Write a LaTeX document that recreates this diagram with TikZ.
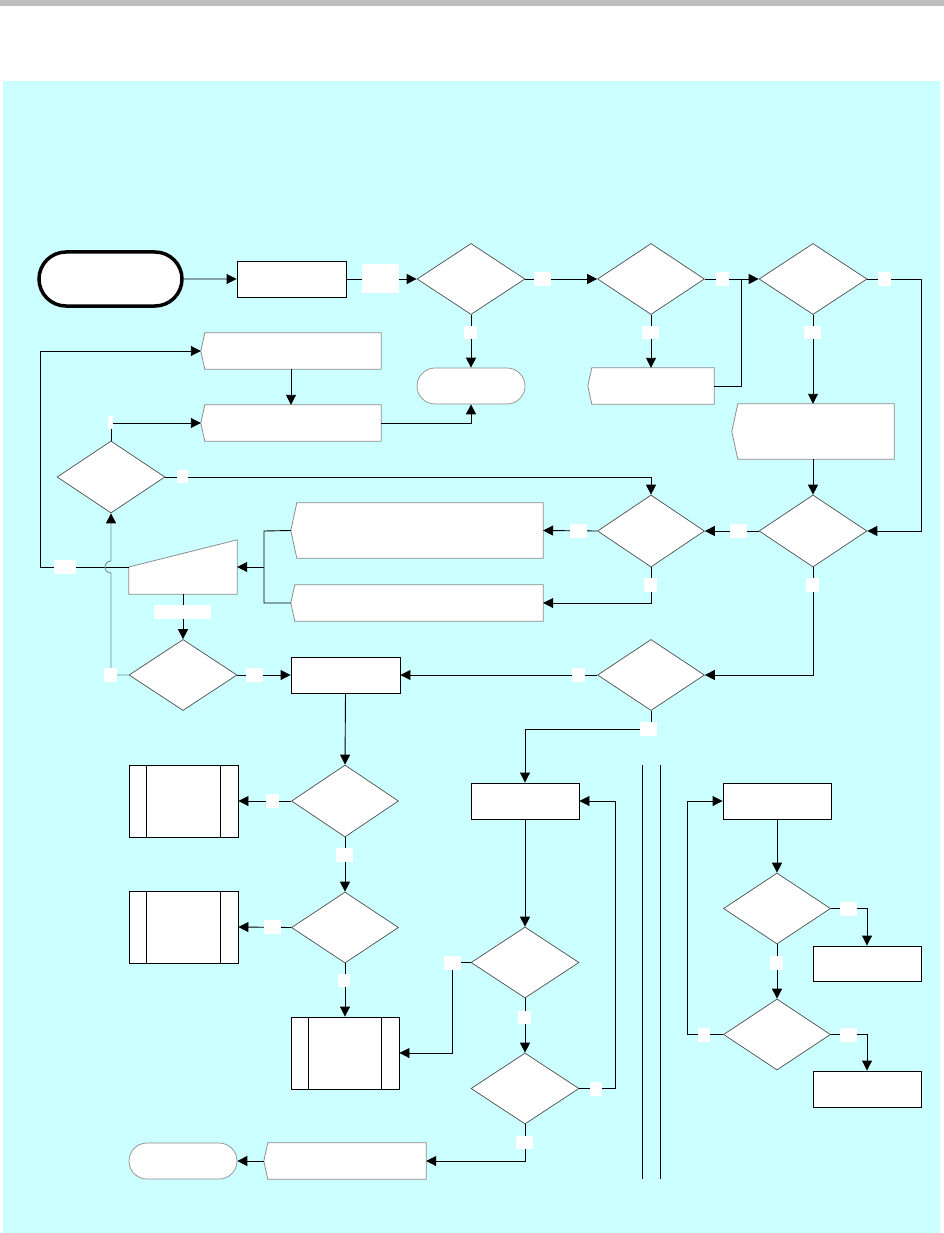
\documentclass[tikz,border=0pt]{standalone}
\usepackage{tikz}
\usetikzlibrary{shapes.geometric,shapes.misc,arrows.meta}

\definecolor{fondcyan}{RGB}{204,255,255}
\definecolor{barre}{RGB}{191,191,191}
\definecolor{bordgris}{RGB}{140,140,140}
\definecolor{liengris}{RGB}{110,150,150}

\tikzset{
  fleche/.style={-{Triangle[length=10pt,width=10pt,color=black]}},
  trait/.style={line width=0.9pt, black},
  losange/.style={diamond, draw=black!70, line width=0.7pt, fill=white, inner sep=0pt,
    minimum width=108pt, minimum height=71pt},
  proc/.style={rectangle, draw=black, line width=0.9pt, fill=white, inner sep=0pt,
    minimum width=108pt, minimum height=36pt},
  predef/.style={proc, minimum height=72pt},
  terminal/.style={rounded rectangle, draw=bordgris, line width=0.7pt, fill=white, inner sep=0pt,
    minimum width=108pt, minimum height=36pt},
  affiche/.style={rectangle, inner sep=0pt, minimum height=36pt},
  etiq/.style={fill=white, inner sep=0pt, minimum width=17pt, minimum height=14pt},
  etiqc/.style={etiq, minimum width=13pt},
}

\begin{document}
\begin{tikzpicture}[x=1pt,y=-1pt]
  % Fond
  \useasboundingbox (0,0) rectangle (944,1233);
  \fill[barre] (0,0) rectangle (944,6);
  \fill[fondcyan] (3,81) rectangle (940,1233);

  % Ligne du haut
  \node[terminal, draw=black, line width=3.5pt, minimum width=143pt, minimum height=54pt] (start) at (110.5,279) {};
  \node[proc, minimum width=109pt] (proc1) at (291.5,279) {};
  \node[losange] (d1) at (471,279) {};
  \node[losange, minimum width=107pt] (d2) at (651,279) {};
  \node[losange] (d3) at (813,279) {};
  \node[terminal] (fin1) at (471,386) {};

  % Boites d'affichage
  \node[affiche, minimum width=180pt] (boxA) at (291,351) {};
  \node[affiche, minimum width=180pt] (boxB) at (291,423) {};
  \node[affiche, minimum width=126pt] (boxC) at (651,386) {};
  \node[affiche, minimum width=162pt, minimum height=55pt] (boxD) at (813,431.5) {};
  \node[affiche, minimum width=252pt, minimum height=55pt] (boxE) at (417,530.5) {};
  \node[affiche, minimum width=252pt] (boxF) at (417,603) {};
  \node[affiche, minimum width=162pt] (boxI) at (345,1161) {};
  \foreach \n/\p in {boxA/4,boxB/4,boxC/4,boxD/6,boxE/6,boxF/4,boxI/4}
    \filldraw[fill=white, draw=bordgris, line width=0.8pt]
      (\n.north east) -- ([xshift=\p pt]\n.north west) -- (\n.west)
      -- ([xshift=\p pt]\n.south west) -- (\n.south east) -- cycle;

  % Losanges du milieu
  \node[losange, minimum height=72pt] (dL1) at (111,477) {};
  \node[losange, minimum height=72pt] (d4) at (813,531) {};
  \node[losange, minimum width=107pt, minimum height=72pt] (d5) at (651,531) {};
  \node[losange] (d7) at (183,675) {};
  \node[losange, minimum width=107pt] (d6) at (651,675) {};
  \node[proc, minimum width=109pt] (procG) at (345.5,675) {};

  % Saisie manuelle
  \node[rectangle, inner sep=0pt, minimum width=108pt, minimum height=54pt] (saisie) at (183,567) {};
  \filldraw[fill=white, draw=bordgris, line width=0.8pt]
    (saisie.south west) -- (saisie.south east) -- (saisie.north east)
    -- (saisie.west) -- cycle;

  % Colonne gauche du bas
  \node[losange, minimum width=107pt, minimum height=72pt] (d8) at (345,801) {};
  \node[losange, minimum width=107pt] (d9) at (345,927.5) {};
  \node[predef, minimum width=109pt] (P1) at (183.5,801) {};
  \node[predef, minimum width=109pt] (P2) at (183.5,927) {};
  \node[predef] (P3) at (345,1053) {};
  \foreach \n in {P1,P2,P3}
    \draw[line width=0.9pt] ([xshift=18pt]\n.north west) -- ([xshift=18pt]\n.south west)
      ([xshift=-18pt]\n.north east) -- ([xshift=-18pt]\n.south east);
  \node[terminal] (fin2) at (183,1161) {};

  % Colonne du milieu
  \node[proc] (procH) at (525,801) {};
  \node[losange] (d10) at (525,962.5) {};
  \node[losange] (d11) at (525,1088.5) {};

  % Separateur
  \draw[line width=0.9pt] (642,765) -- (642,1179) (660,765) -- (660,1179);

  % Colonne de droite
  \node[proc] (procJ) at (777,801) {};
  \node[losange, minimum width=107pt] (d12) at (777,908.5) {};
  \node[losange, minimum width=107pt] (d13) at (777,1034.5) {};
  \node[proc, minimum height=35pt] (procK) at (867,963.5) {};
  \node[proc] (procL) at (867,1089) {};

  % Liaisons
  \coordinate (j1) at (741,279);
  \coordinate (j3) at (921,279);
  \coordinate (jE) at (264,531);
  \coordinate (jG) at (40,567);
  \begin{scope}[trait]
    \draw[fleche] (start) -- (proc1);
    \draw[fleche] (proc1) -- (d1);
    \draw[fleche] (d1) -- (d2);
    \draw[fleche] (d1) -- (fin1);
    \draw[fleche] (d2) -- (boxC.north);
    \draw[fleche] (d2.east) -- (d3.west);
    \draw (boxC.east) -| (j1);
    \draw[fleche] (d3) -- (boxD.north);
    \draw[fleche] (d3.east) -- (j3) |- (d4.east);
    \draw[fleche] (boxD.south) -- (d4);
    \draw[fleche] (d4) -- (d5);
    \draw[fleche] (dL1.east) -| (d5.north);
    \draw[fleche] (d5.west) -- (boxE.east);
    \draw[fleche] (d5.south) |- (boxF.east);
    \draw[fleche] (d4.south) |- (d6.east);
    \draw[fleche] (d6.west) -- (procG.east);
    \draw[fleche] (d6.south) -- ++(0,18.5) -| (procH.north);
    \draw (boxE.west) -- (jE) |- (boxF.west);
    \draw[fleche] (jE |- saisie.east) -- (saisie.east);
    \draw[fleche] (saisie.west) -- (jG) |- (boxA.west);
    \draw[fleche] (saisie.south) -- (d7.north);
    \draw[fleche] (d7.east) -- (procG.west);
    \draw[fleche] (dL1.north) |- (boxB.west);
    \draw[fleche] (boxA.south) -- (boxB.north);
    \draw[fleche] (boxB.east) -| (fin1.south);
    \draw[fleche] (procG.south) -- (d8.north);
    \draw[fleche] (d8.west) -- (P1.east);
    \draw[fleche] (d8.south) -- (d9.north);
    \draw[fleche] (d9.west) -- (P2.east);
    \draw[fleche] (d9.south) -- (P3.north);
    \draw[fleche] (procH.south) -- (d10.north);
    \draw[fleche] (d10.south) -- (d11.north);
    \draw[fleche] (d10.west) -- ++(-18,0) |- (P3.east);
    \draw[fleche] (d11.east) -- ++(36,0) |- (procH.east);
    \draw[fleche] (d11.south) |- (boxI.east);
    \draw[fleche] (boxI.west) -- (fin2.east);
    \draw[fleche] (procJ.south) -- (d12.north);
    \draw[fleche] (d12.east) -| (procK.north);
    \draw[fleche] (d12.south) -- (d13.north);
    \draw[fleche] (d13.east) -| (procL.north);
    \draw[fleche] (d13.west) -- ++(-36,0) |- (procJ.west);
  \end{scope}
  % Retour gris avec saut
  \draw[fleche, line width=0.9pt, liengris] (d7.west) -| (111,573)
    arc[start angle=270, end angle=90, radius=6pt] -- (dL1.south);

  % Etiquettes
  \node[etiq, minimum width=37pt, minimum height=29pt] (e1) at (380.5,278.5) {};
  \node[etiqc, minimum height=13pt] (e2) at (470.5,332.5) {};
  \node[etiq] (e3) at (542.5,279) {};
  \node[etiq, minimum height=13pt] (e4) at (650.5,332.5) {};
  \node[etiqc] (e5) at (722.5,279) {};
  \node[etiq, minimum height=13pt] (e6) at (812.5,332.5) {};
  \node[etiqc] (e7) at (884.5,279) {};
  \node[etiq, minimum width=5pt, minimum height=13pt] (e8) at (110.5,422.5) {};
  \node[etiq, minimum width=11pt, minimum height=13pt] (e9) at (182.5,476.5) {};
  \node[etiq] (e10) at (738.5,531) {};
  \node[etiq] (e11) at (578.5,531) {};
  \node[etiqc] (e12) at (650.5,585) {};
  \node[etiqc] (e13) at (812.5,585) {};
  \node[etiqc] (e14) at (578.5,675) {};
  \node[etiq] (e15) at (648.5,729) {};
  \node[etiq, minimum width=22pt] (e16) at (65,567) {};
  \node[etiq, minimum width=57pt] (e17) at (182.5,612) {};
  \node[etiq] (e18) at (254.5,675) {};
  \node[etiqc] (e19) at (110.5,675) {};
  \node[etiqc] (e20) at (272.5,801) {};
  \node[etiq] (e21) at (344.5,855) {};
  \node[etiq] (e22) at (272.5,927) {};
  \node[etiq, minimum width=12pt, minimum height=13pt] (e23) at (344,980.5) {};
  \node[etiq] (e24) at (452.5,963) {};
  \node[etiqc, minimum height=13pt] (e25) at (524.5,1017.5) {};
  \node[etiq, minimum width=12pt] (e26) at (596,1089) {};
  \node[etiq, minimum height=13pt] (e27) at (524.5,1142.5) {};
  \node[etiq] (e28) at (848.5,909) {};
  \node[etiqc] (e29) at (776.5,963) {};
  \node[etiq] (e30) at (848.5,1035) {};
  \node[etiq, minimum width=12pt] (e31) at (704,1035) {};
\end{tikzpicture}
\end{document}
